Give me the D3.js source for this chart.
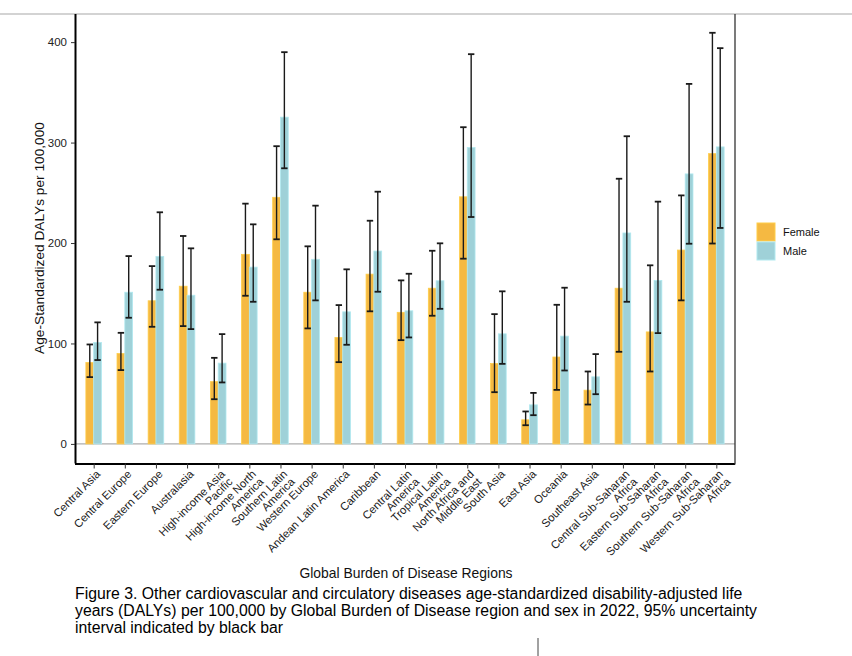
<!DOCTYPE html>
<html lang="en">
<head>
  <meta charset="utf-8">
  <title>DALYs by GBD region</title>
  <script src="https://cdn.jsdelivr.net/npm/d3@7"></script>
  <style>
    body { margin: 0; background: #fff; }
    svg { display: block; font-family: "Liberation Sans", Arial, sans-serif; }
  </style>
</head>
<body>
  <svg id="chart" width="852" height="656"></svg>

  <script>
    // regions, "\n" marks where the tick label wraps
    const regions = [
      "Central Asia", "Central Europe", "Eastern Europe", "Australasia",
      "High-income Asia\nPacific", "High-income North\nAmerica", "Southern Latin\nAmerica",
      "Western Europe", "Andean Latin America", "Caribbean", "Central Latin\nAmerica",
      "Tropical Latin\nAmerica", "North Africa and\nMiddle East", "South Asia", "East Asia",
      "Oceania", "Southeast Asia", "Central Sub-Saharan\nAfrica", "Eastern Sub-Saharan\nAfrica",
      "Southern Sub-Saharan\nAfrica", "Western Sub-Saharan\nAfrica"
    ];

    const femaleVal = [81, 90, 142.5, 157, 62, 188.7, 245.5, 151, 106, 169, 131, 155, 246, 80, 24, 86.5, 53.5, 155, 111.5, 193, 289];
    const femaleLo  = [66.5, 73.5, 116.6, 117.3, 44.5, 147.5, 203.7, 115, 81.4, 132, 103.3, 127.6, 184.4, 51.5, 18.6, 53.8, 39.2, 91.7, 72.1, 142.9, 199.5];
    const femaleHi  = [99, 110.6, 177, 207, 85.7, 239.2, 296.4, 196.7, 138.2, 222.2, 162.8, 192.3, 315.3, 129.2, 32.3, 138.5, 72.1, 264, 177.8, 247.4, 409.3];

    const maleVal = [101, 151, 186.7, 148, 80.4, 176, 325.3, 183.8, 131.5, 192, 132.5, 162.4, 295, 109.6, 38.9, 107.3, 66.8, 210, 162.8, 268.8, 295.7];
    const maleLo  = [83.5, 125.6, 153.5, 114.3, 61.2, 141.5, 274.4, 142.9, 98.7, 151.5, 106, 134.5, 225.9, 79.7, 28.6, 73.1, 49.5, 141.5, 110.3, 199.3, 215];
    const maleHi  = [121, 187, 230.6, 194.7, 109.3, 218.6, 390, 237.2, 173.8, 251.1, 169.4, 199.7, 388, 151.9, 50.8, 155.5, 89.4, 306.3, 241.2, 358.4, 394];

    const sexes = ["Female", "Male"];
    const yTicks = [0, 100, 200, 300, 400];

    const captionLines = [
      "Figure 3. Other cardiovascular and circulatory diseases age-standardized disability-adjusted life",
      "years (DALYs) per 100,000 by Global Burden of Disease region and sex in 2022, 95% uncertainty",
      "interval indicated by black bar"
    ];

    const colors = { Female: "#f5b942", Male: "#9fd1d8" };

    const svg = d3.select("#chart");
    const pLeft = 75, pRight = 735, pTop = 14, pBottom = 463.5;

    const x = d3.scalePoint().domain(d3.range(regions.length)).range([pLeft, pRight]).padding(0.6);
    const sub = d3.scaleBand().domain(sexes).range([-7.8, 7.8]);
    const y = d3.scaleLinear().domain([-19.5, 428]).range([pBottom, pTop]);

    const rows = regions.map((r, i) => [
      { i, sex: "Female", v: femaleVal[i], lo: femaleLo[i], hi: femaleHi[i] },
      { i, sex: "Male", v: maleVal[i], lo: maleLo[i], hi: maleHi[i] }
    ]).flat();

    // page rule along the top
    svg.append("line").attr("x1", 0).attr("x2", 852).attr("y1", 14).attr("y2", 14)
      .attr("stroke", "#c4c4c4").attr("stroke-width", 1.5);

    // zero line
    svg.append("line").attr("x1", pLeft).attr("x2", pRight).attr("y1", y(0)).attr("y2", y(0))
      .attr("stroke", "#999").attr("stroke-width", 1);

    // bars
    svg.append("g").selectAll("rect").data(rows).join("rect")
      .attr("x", d => x(d.i) + sub(d.sex))
      .attr("width", sub.bandwidth())
      .attr("y", d => y(d.v))
      .attr("height", d => y(0) - y(d.v))
      .attr("fill", d => colors[d.sex])
      .attr("stroke", d => d3.color(colors[d.sex]).brighter(0.3))
      .attr("stroke-width", 0.8);

    // error bars
    const eb = svg.append("g").attr("stroke", "#1a1a1a").attr("stroke-width", 1.4);
    rows.forEach(d => {
      const cx = x(d.i) + sub(d.sex) + sub.bandwidth() / 2;
      eb.append("line").attr("x1", cx).attr("x2", cx).attr("y1", y(d.lo)).attr("y2", y(d.hi));
      eb.append("line").attr("x1", cx - 3.2).attr("x2", cx + 3.2).attr("y1", y(d.lo)).attr("y2", y(d.lo)).attr("stroke-width", 1.8);
      eb.append("line").attr("x1", cx - 3.2).attr("x2", cx + 3.2).attr("y1", y(d.hi)).attr("y2", y(d.hi)).attr("stroke-width", 1.8);
    });

    // y axis
    const yAxis = svg.append("g").attr("transform", `translate(${pLeft},0)`)
      .call(d3.axisLeft(y).tickValues(yTicks).tickSize(4).tickPadding(4));
    yAxis.select(".domain").attr("d", `M0.5,${pTop}V${pBottom}`).attr("stroke", "#000").attr("stroke-width", 2);
    yAxis.selectAll(".tick line").attr("stroke", "#333");
    yAxis.selectAll("text").attr("font-size", 11.5).attr("fill", "#222").attr("font-family", "Liberation Sans, Arial");

    // x axis
    const xAxis = svg.append("g").attr("transform", `translate(0,${pBottom})`)
      .call(d3.axisBottom(x).tickSize(5).tickFormat(""));
    xAxis.select(".domain").attr("d", `M${pLeft},0.5H${pRight}`).attr("stroke", "#000").attr("stroke-width", 2);
    xAxis.selectAll(".tick line").attr("stroke", "#333");

    // right panel edge
    svg.append("line").attr("x1", pRight).attr("x2", pRight).attr("y1", pTop).attr("y2", pBottom + 1)
      .attr("stroke", "#333").attr("stroke-width", 1.3);

    // rotated tick labels
    const lab = svg.append("g").attr("font-size", 11.3).attr("fill", "#1a1a1a");
    regions.forEach((r, i) => {
      const t = lab.append("text")
        .attr("transform", `translate(${x(i) + 1},${pBottom + 5}) rotate(-45)`)
        .attr("text-anchor", "end");
      r.split("\n").forEach((line, k) => {
        t.append("tspan").attr("x", 0).attr("dy", k === 0 ? "0.8em" : "0.95em").text(line);
      });
    });

    // axis titles
    svg.append("text").attr("transform", "translate(44,238) rotate(-90)")
      .attr("text-anchor", "middle").attr("font-size", 13.7).attr("fill", "#111")
      .text("Age-Standardized DALYs per 100,000");
    svg.append("text").attr("x", 406).attr("y", 578).attr("text-anchor", "middle")
      .attr("font-size", 13.9).attr("fill", "#111").text("Global Burden of Disease Regions");

    // legend
    const lg = svg.append("g").attr("transform", "translate(757,223)");
    sexes.forEach((s, k) => {
      lg.append("rect").attr("x", 0).attr("y", k * 19).attr("width", 18).attr("height", 18)
        .attr("fill", colors[s]).attr("stroke", d3.color(colors[s]).brighter(0.3));
      lg.append("text").attr("x", 26).attr("y", k * 19 + 13).attr("font-size", 11)
        .attr("fill", "#111").text(s);
    });

    // caption
    svg.append("g").selectAll("text").data(captionLines).join("text")
      .attr("x", 75).attr("y", (d, k) => 599 + k * 17)
      .attr("font-size", 15.8).attr("fill", "#000").text(d => d);

    // text cursor left in the page
    svg.append("line").attr("x1", 538).attr("x2", 538).attr("y1", 638).attr("y2", 656)
      .attr("stroke", "#444").attr("stroke-width", 1);
  </script>
</body>
</html>
